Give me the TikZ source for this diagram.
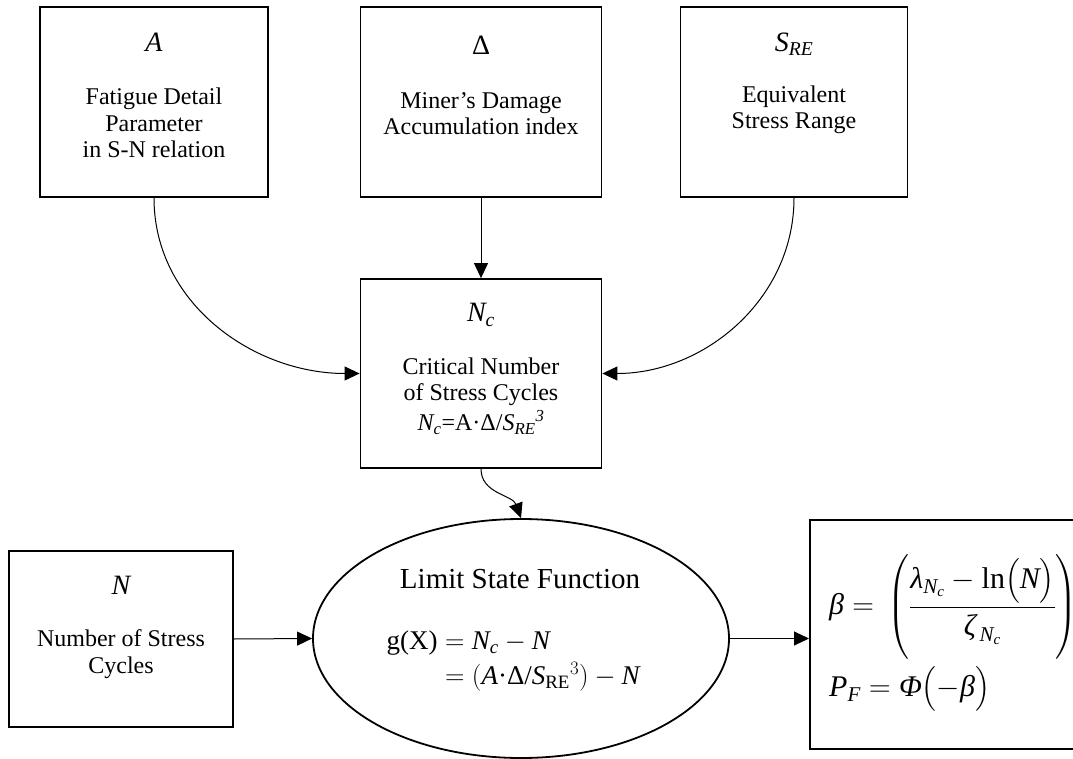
\documentclass[tikz,border=0pt]{standalone}
\usepackage{fix-cm}
\usepackage{amsmath}
\usepackage{fontspec}
\setmainfont{Liberation Serif}
\usetikzlibrary{arrows.meta,calc,positioning,shapes.geometric}
\newcommand{\itx}[1]{\text{\itshape #1}}
\tikzset{arr/.style={-{Triangle[length=15pt,width=14pt]}, line width=1pt},
  blk/.style={draw, line width=1.8pt, inner sep=0pt},
  sym/.style={font=\fontsize{28}{30}\selectfont\itshape},
  symup/.style={font=\fontsize{28}{30}\selectfont},
  txt/.style={align=center, font=\fontsize{24}{26.5}\selectfont},
  eqn/.style={anchor=west, inner sep=0pt, font=\fontsize{30}{34}\selectfont}}

\begin{document}
\begin{tikzpicture}[x=1pt, y=-1pt]
  \useasboundingbox (0,0) rectangle (1073,759);
  \clip (0,0) rectangle (1073,759);
  % boxes
  \node[blk, minimum width=228pt, minimum height=190pt] (A) at (154,102) {};
  \node[blk, minimum width=241pt, minimum height=190pt] (Dmg) at (481,102) {};
  \node[blk, minimum width=227pt, minimum height=190pt] (Sre) at (794,102) {};
  \node[blk, minimum width=241pt, minimum height=189pt] (Nc) at (481,373.5) {};
  \node[blk, minimum width=224pt, minimum height=176pt] (N) at (121,639) {};
  \node[blk, ellipse, minimum width=416pt, minimum height=239pt] (lsf) at (521,638.5) {};
  \node[blk, minimum width=300pt, minimum height=229pt, anchor=north west] (beta) at (809,519) {};
  % box texts
  \node[sym] (A-s) at (154,42) {A};
  \node[txt] (A-t) at (154,123) {Fatigue Detail\\Parameter\\in S-N relation};
  \node[symup] (Dmg-s) at (481,45) {Δ};
  \node[txt] (Dmg-t) at (481,113.5) {Miner’s Damage\\Accumulation index};
  \node[sym] (Sre-s) at (794,44) {$\itx{S}_{\itx{RE}}$};
  \node[txt] (Sre-t) at (794,110) {Equivalent\\Stress Range};
  \node[sym] (Nc-s) at (481,315) {$\itx{N}_{\itx{c}}$};
  \node[txt] (Nc-t) at (481,396) {Critical Number\\of Stress Cycles\\[3pt]
    {\itshape N}\textsubscript{\itshape c}=A·Δ/{\itshape S}\textsubscript{\itshape RE}\textsuperscript{\itshape 3}};
  \node[sym] (N-s) at (121,585) {N};
  \node[txt] (N-t) at (121,654) {Number of Stress\\Cycles};
  % limit state
  \node[font=\fontsize{29}{32}\selectfont] (lsf-t) at (520,579) {Limit State Function};
  \node[anchor=west, font=\fontsize{27}{35}\selectfont] (lsf-g) at (383,660)
    {\begin{tabular}{@{}r@{}l@{}}
      g(X) & ${}= \itx{N}_{\itx{c}} - \itx{N}$\\
           & ${}= (\itx{A}\text{·Δ/}\itx{S}_{\text{RE}}{}^{3}) - \itx{N}$
     \end{tabular}};
  % reliability
  \node[eqn] (beta-eq) at (829,607)
    {$\itx{β} = \,\left(\dfrac{\itx{λ}_{\itx{N}_{\itx{c}}} - \text{ln}\bigl(\itx{N}\bigr)}{\itx{ζ}_{\,\itx{N}_{\itx{c}}}}\right)$};
  \node[eqn] (pf-eq) at (829,689) {$\itx{P}_{\itx{F}} = \itx{Φ}\bigl(-\itx{β}\bigr)$};
  % connectors
  \draw[arr] (Dmg) -- (Nc);
  \draw[arr] (A.south) to[out=-90, in=180] (Nc.west);
  \draw[arr] (Sre.south) to[out=-90, in=0] (Nc.east);
  \draw[arr] (Nc.south) to[out=-90, in=110] (lsf.north);
  \draw[arr] (N.east) -- (lsf.west);
  \draw[arr] (lsf.east) -- (beta.west |- lsf.east);
\end{tikzpicture}
\end{document}
